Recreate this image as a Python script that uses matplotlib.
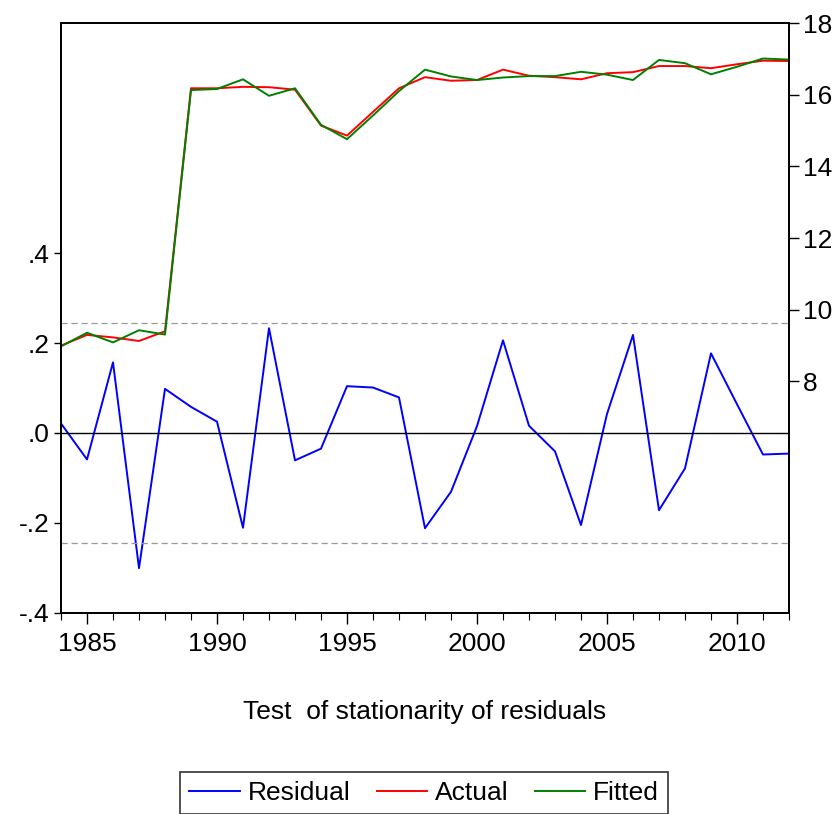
import matplotlib
matplotlib.use("Agg")
import matplotlib.pyplot as plt
from matplotlib.ticker import FixedLocator, MultipleLocator

years = list(range(1984, 2013))

residual = [0.021, -0.059, 0.157, -0.301, 0.098, 0.058, 0.025, -0.211, 0.233, -0.061,
            -0.035, 0.104, 0.101, 0.079, -0.212, -0.131, 0.015, 0.206, 0.016, -0.041,
            -0.205, 0.042, 0.218, -0.172, -0.079, 0.177, 0.064, -0.048, -0.046]

actual = [9.00, 9.30, 9.23, 9.13, 9.40, 16.18, 16.18, 16.22, 16.21, 16.14,
          15.14, 14.86, 15.52, 16.18, 16.49, 16.39, 16.41, 16.70, 16.53, 16.49,
          16.43, 16.60, 16.63, 16.80, 16.80, 16.74, 16.85, 16.95, 16.94]

fitted = [8.98, 9.36, 9.09, 9.43, 9.31, 16.13, 16.16, 16.43, 15.97, 16.18,
          15.16, 14.76, 15.42, 16.10, 16.70, 16.51, 16.41, 16.48, 16.52, 16.52,
          16.64, 16.56, 16.41, 16.97, 16.88, 16.57, 16.78, 17.01, 16.98]

se_band = 0.244
left_ticks = [-0.4, -0.2, 0.0, 0.2, 0.4]
left_labels = ["-.4", "-.2", ".0", ".2", ".4"]
right_ticks = [8, 10, 12, 14, 16, 18]

plt.rcParams["font.family"] = ["Liberation Sans Narrow", "Liberation Sans", "DejaVu Sans"]

fig = plt.figure(figsize=(8.38, 8.14), dpi=100)
ax = fig.add_axes([0.0728, 0.2473, 0.8687, 0.7244])
ax2 = ax.twinx()

# residual on the left axis
ax.plot(years, residual, color="#0000ff", lw=1.4, label="Residual")
ax.axhline(0, color="black", lw=1.0)
ax.axhline(se_band, color="#999999", lw=0.9, ls=(0, (5, 3)))
ax.axhline(-se_band, color="#999999", lw=0.9, ls=(0, (5, 3)))
ax.set_xlim(1984, 2012)
ax.set_ylim(-0.4, 0.912)
ax.yaxis.set_major_locator(FixedLocator(left_ticks))
ax.set_yticklabels(left_labels)

# actual / fitted on the right axis
ax2.plot(years, actual, color="#ff0000", lw=1.4, label="Actual")
ax2.plot(years, fitted, color="#008000", lw=1.4, label="Fitted")
ax2.set_ylim(1.55, 18.0)
ax2.yaxis.set_major_locator(FixedLocator(right_ticks))

ax.set_xticks([1985, 1990, 1995, 2000, 2005, 2010])
ax.xaxis.set_minor_locator(MultipleLocator(1))

for a in (ax, ax2):
    for s in a.spines.values():
        s.set_linewidth(1.3)
ax.tick_params(axis="x", which="major", direction="out", length=8, width=1.0, labelsize=19, pad=6)
ax.tick_params(axis="x", which="minor", direction="out", length=5, width=0.8)
ax.tick_params(axis="y", direction="out", length=5, width=1.0, labelsize=19, pad=3)
ax2.tick_params(axis="y", direction="out", length=7, width=1.0, labelsize=19, pad=3)

fig.text(0.507, 0.125, "Test  of stationarity of residuals", ha="center", va="center", fontsize=19)

h1, l1 = ax.get_legend_handles_labels()
h2, l2 = ax2.get_legend_handles_labels()
leg = fig.legend(h1 + h2, l1 + l2, loc="upper center", bbox_to_anchor=(0.506, 0.0516),
                 borderaxespad=0.0,
                 ncol=3, fontsize=19, frameon=True, fancybox=False, edgecolor="black",
                 handlelength=1.9, handletextpad=0.3, columnspacing=1.0,
                 borderpad=0.35)
leg.get_frame().set_linewidth(1.2)

fig.savefig("out.png", dpi=100)
